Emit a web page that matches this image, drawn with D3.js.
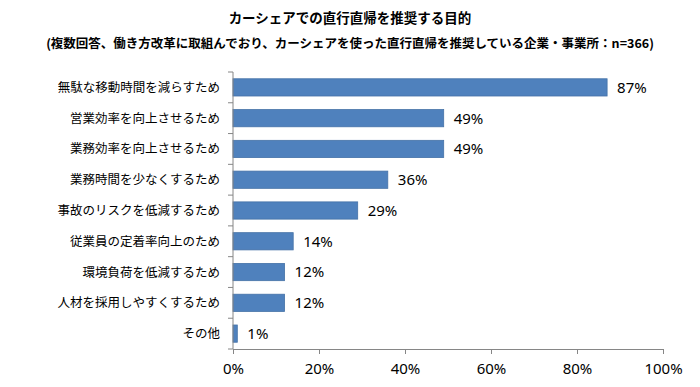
<!DOCTYPE html>
<html>
<head>
<meta charset="utf-8">
<script src="https://cdn.jsdelivr.net/npm/d3@7"></script>
<style>
  body { margin: 0; background: #fff; }
  svg text { font-family: "Noto Sans CJK JP", "Noto Sans", sans-serif; }
  svg text.num { font-family: "Noto Sans", "Open Sans", sans-serif; }
</style>
</head>
<body>
<svg id="drawing_region"></svg>
<script>
const categories = [
    "無駄な移動時間を減らすため",
    "営業効率を向上させるため",
    "業務効率を向上させるため",
    "業務時間を少なくするため",
    "事故のリスクを低減するため",
    "従業員の定着率向上のため",
    "環境負荷を低減するため",
    "人材を採用しやすくするため",
    "その他"
];
const values = [87, 49, 49, 36, 29, 14, 12, 12, 1];
const xTicks = [0, 20, 40, 60, 80, 100];

const title = "カーシェアでの直行直帰を推奨する目的";
const subtitle = "(複数回答、働き方改革に取組んでおり、カーシェアを使った直行直帰を推奨している企業・事業所：n=366)";

const data = categories.map((c, i) => ({ label: c, value: values[i] }));

const config = {
    width: 700,
    height: 387,
    margin: { top: 72, right: 37, bottom: 38, left: 233 }
};

const svg = d3.select('#drawing_region')
    .attr('width', config.width)
    .attr('height', config.height);

const inner_width = config.width - config.margin.left - config.margin.right;
const inner_height = config.height - config.margin.top - config.margin.bottom;

const chart = svg.append('g')
    .attr('transform', `translate(${config.margin.left}, ${config.margin.top})`);

const xscale = d3.scaleLinear()
    .domain([0, 100])
    .range([0, inner_width]);

const yscale = d3.scaleBand()
    .domain(categories)
    .range([0, inner_height])
    .paddingInner(0.44)
    .paddingOuter(0.22);

// bars
chart.selectAll('rect.bar').data(data)
    .join('rect')
    .attr('class', 'bar')
    .attr('x', 0)
    .attr('y', d => yscale(d.label))
    .attr('width', d => xscale(d.value))
    .attr('height', yscale.bandwidth())
    .attr('fill', '#4f81bd')
    .attr('stroke', '#4572a7')
    .attr('stroke-width', 0.8);

// value labels
chart.selectAll('text.val').data(data)
    .join('text')
    .attr('class', 'val num')
    .attr('x', d => xscale(d.value) + 10)
    .attr('y', d => yscale(d.label) + yscale.bandwidth() / 2)
    .attr('dy', '0.36em')
    .style('font-size', '15px')
    .style('fill', '#000')
    .text(d => d.value + '%');

// bottom axis
const xaxis = d3.axisBottom(xscale)
    .tickValues(xTicks)
    .tickSize(5)
    .tickSizeOuter(0)
    .tickFormat(d => d + '%');

const xg = chart.append('g')
    .attr('transform', `translate(0, ${inner_height})`)
    .call(xaxis);
xg.select('.domain').attr('stroke', '#868686');
xg.selectAll('.tick line').attr('stroke', '#868686');
xg.selectAll('.tick text')
    .attr('class', 'num')
    .attr('dy', '1.15em')
    .style('font-size', '15px')
    .style('fill', '#000');

// left axis: line + ticks at band boundaries
const bounds = d3.range(categories.length + 1).map(i => i * inner_height / categories.length);
chart.append('line')
    .attr('x1', 0).attr('x2', 0)
    .attr('y1', 0).attr('y2', inner_height)
    .attr('stroke', '#868686');
chart.selectAll('line.ytick').data(bounds)
    .join('line')
    .attr('class', 'ytick')
    .attr('x1', -5).attr('x2', 0)
    .attr('y1', d => d).attr('y2', d => d)
    .attr('stroke', '#868686');

chart.selectAll('text.cat').data(data)
    .join('text')
    .attr('class', 'cat')
    .attr('x', -13)
    .attr('y', d => yscale(d.label) + yscale.bandwidth() / 2)
    .attr('dy', '0.36em')
    .attr('text-anchor', 'end')
    .style('font-size', '12.5px')
    .style('fill', '#000')
    .text(d => d.label);

// titles
svg.append('text')
    .attr('x', 350)
    .attr('y', 23)
    .attr('text-anchor', 'middle')
    .style('font-size', '13.5px')
    .style('font-weight', 'bold')
    .text(title);

svg.append('text')
    .attr('x', 350)
    .attr('y', 48)
    .attr('text-anchor', 'middle')
    .style('font-size', '12.5px')
    .style('font-weight', 'bold')
    .text(subtitle);
</script>
</body>
</html>
